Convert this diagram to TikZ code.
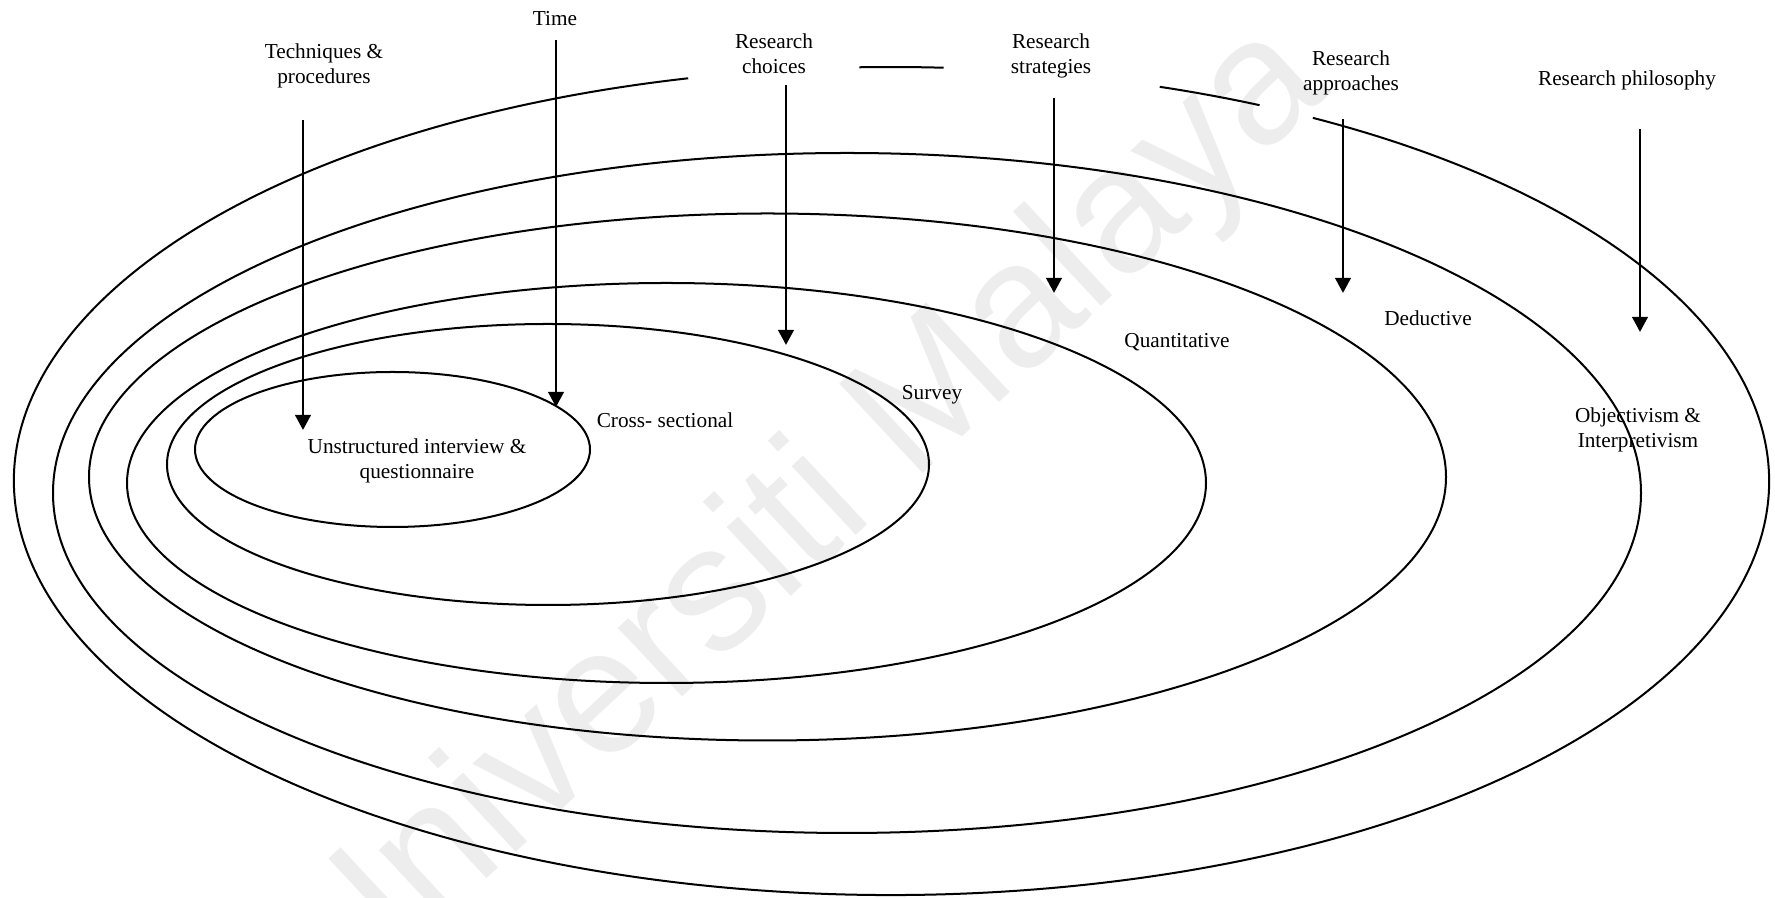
\documentclass[tikz,border=0pt]{standalone}
\usepackage{fontspec}
\setmainfont{Liberation Serif}
\newfontfamily\wmfont{Liberation Sans}
\usetikzlibrary{arrows.meta}

\tikzset{
  ring/.style={line width=0.57pt, black},
  pointer/.style={line width=0.8pt, black, -{Triangle[length=4.3pt, width=4.4pt]}},
  lbl/.style={font=\fontsize{6.05}{7.1}\selectfont, align=center, inner sep=0pt},
  watermark/.style={font=\wmfont\fontsize{50.6}{52}\selectfont, text=black!7, inner sep=0pt}
}

\begin{document}
\begin{tikzpicture}[x=0.01cm, y=0.01cm]
\useasboundingbox (0,0) rectangle (1775,-898);

% faint background stamp
\node[watermark, rotate=43] (stamp) at (805,-520) {Universiti Malaya};

% centres of the nested layers, outermost first
\coordinate (c1) at (891.5,-481);
\coordinate (c2) at (847,-493);
\coordinate (c3) at (767.5,-477);
\coordinate (c4) at (666.5,-483);
\coordinate (c5) at (548,-464.5);
\coordinate (c6) at (392.5,-449.5);

% outer layer, broken at the top around the labels
\draw[ring] ([shift={(103.4:877.5 and 414)}]c1) arc[start angle=103.4, end angle=421.3, x radius=877.5, y radius=414];
\draw[ring] ([shift={(92.1:877.5 and 414)}]c1) arc[start angle=92.1, end angle=86.6, x radius=877.5, y radius=414];
\draw[ring] ([shift={(72.2:877.5 and 414)}]c1) arc[start angle=72.2, end angle=65.2, x radius=877.5, y radius=414];

% inner layers
\draw[ring] (c2) ellipse[x radius=794, y radius=340];
\draw[ring] (c3) ellipse[x radius=678.5, y radius=263.5];
\draw[ring] (c4) ellipse[x radius=539.5, y radius=200];
\draw[ring] (c5) ellipse[x radius=381, y radius=140.5];
\draw[ring] (c6) ellipse[x radius=197.5, y radius=77.5];

% layer headings
\node[lbl] (time)   at (555,-19)   {Time};
\node[lbl] (tech)   at (324,-66)   {Techniques \&\\procedures};
\node[lbl] (choice) at (774,-53.5) {Research\\choices};
\node[lbl] (strat)  at (1051,-55.5){Research\\strategies};
\node[lbl] (appr)   at (1351,-73)  {Research\\approaches};
\node[lbl] (phil)   at (1627,-80)  {Research philosophy};

% layer contents
\node[lbl] (ded)    at (1428,-318) {Deductive};
\node[lbl] (quant)  at (1177,-342) {Quantitative};
\node[lbl] (survey) at (932,-395)  {Survey};
\node[lbl] (cross)  at (665,-420)  {Cross- sectional};
\node[lbl] (unstr)  at (417,-460.5){Unstructured interview \&\\questionnaire};
\node[lbl] (obj)    at (1638,-429.5){Objectivism \&\\Interpretivism};

% arrow ends
\coordinate (tech-s)   at (303,-120);  \coordinate (tech-e)   at (303,-430);
\coordinate (time-s)   at (556,-40);   \coordinate (time-e)   at (556,-407);
\coordinate (choice-s) at (786,-85);   \coordinate (choice-e) at (786,-345);
\coordinate (strat-s)  at (1054,-98);  \coordinate (strat-e)  at (1054,-293);
\coordinate (appr-s)   at (1343,-119); \coordinate (appr-e)   at (1343,-293);
\coordinate (phil-s)   at (1640,-129); \coordinate (phil-e)   at (1640,-332);

\draw[pointer] (tech-s) -- (tech-e);
\draw[pointer] (time-s) -- (time-e);
\draw[pointer] (choice-s) -- (choice-e);
\draw[pointer] (strat-s) -- (strat-e);
\draw[pointer] (appr-s) -- (appr-e);
\draw[pointer] (phil-s) -- (phil-e);
\end{tikzpicture}
\end{document}
